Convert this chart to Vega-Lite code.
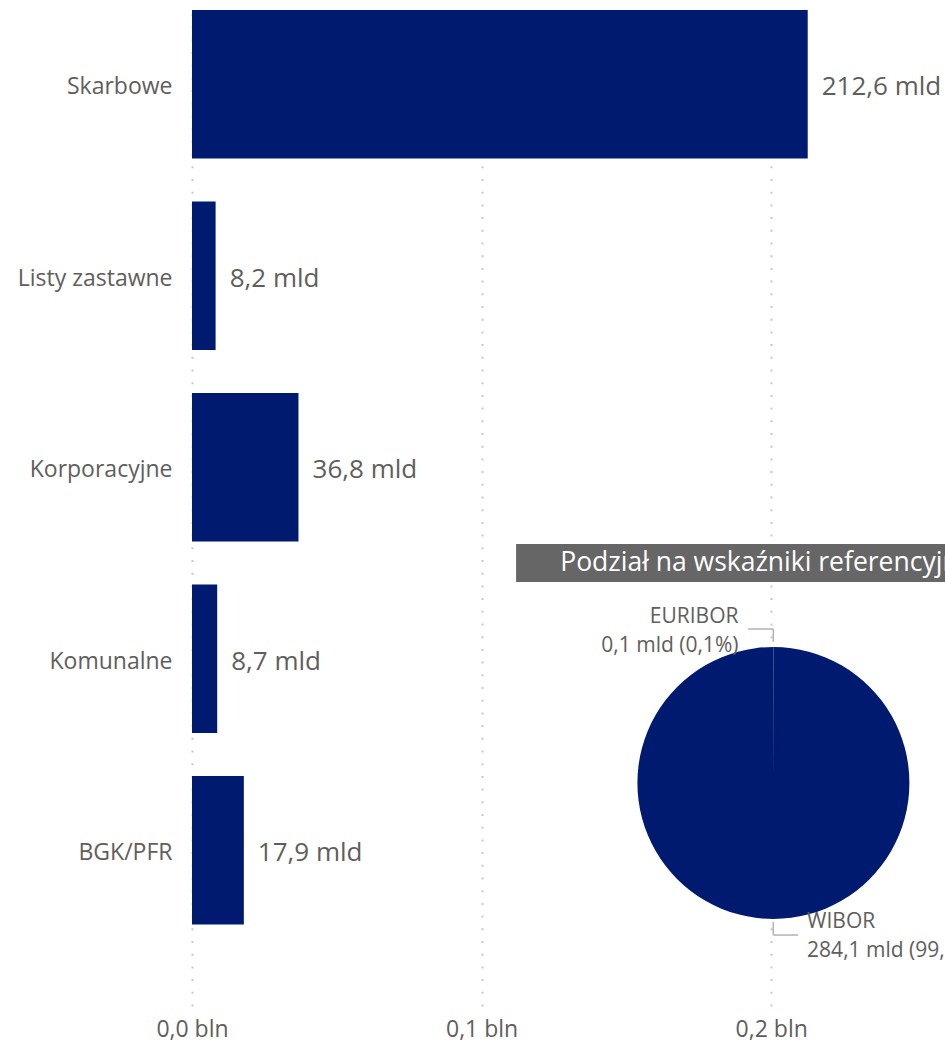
{
  "$schema": "https://vega.github.io/schema/vega-lite/v6.json",
  "autosize": {"type": "none"},
  "padding": {"left": 192, "top": 8, "right": 0, "bottom": 37},
  "width": 753,
  "height": 998,
  "background": "white",
  "config": {
    "view": {"stroke": null},
    "font": "Open Sans"
  },
  "layer": [
    {
      "data": {"values": [
        {"kategoria": "Skarbowe", "wskaznik": "WIBOR", "wartosc": 212.6, "etykieta": "212,6 mld"},
        {"kategoria": "Listy zastawne", "wskaznik": "WIBOR", "wartosc": 8.15, "etykieta": "8,2 mld"},
        {"kategoria": "Listy zastawne", "wskaznik": "EURIBOR", "wartosc": 0.05, "etykieta": "8,2 mld"},
        {"kategoria": "Korporacyjne", "wskaznik": "WIBOR", "wartosc": 36.75, "etykieta": "36,8 mld"},
        {"kategoria": "Korporacyjne", "wskaznik": "EURIBOR", "wartosc": 0.05, "etykieta": "36,8 mld"},
        {"kategoria": "Komunalne", "wskaznik": "WIBOR", "wartosc": 8.7, "etykieta": "8,7 mld"},
        {"kategoria": "BGK/PFR", "wskaznik": "WIBOR", "wartosc": 17.9, "etykieta": "17,9 mld"}
      ]},
      "layer": [
        {
          "mark": {"type": "bar"},
          "encoding": {
            "y": {
              "field": "kategoria", "type": "nominal", "sort": null, "title": null,
              "scale": {"domain": ["Skarbowe", "Listy zastawne", "Korporacyjne", "Komunalne", "BGK/PFR"], "paddingInner": 0.2245, "paddingOuter": 0.218, "align": 0.024},
              "axis": {
                "ticks": false, "domain": false, "labelPadding": 20, "labelFontSize": 23,
                "labelColor": "#605E5C", "labelFont": "Open Sans", "labelOffset": 3
              }
            },
            "x": {
              "field": "wartosc", "type": "quantitative", "stack": "zero", "title": null,
              "scale": {"domain": [0, 260], "nice": false},
              "axis": {
                "values": [0, 100, 200], "ticks": false, "domain": false, "labelFlush": false,
                "labelExpr": "replace(format(datum.value / 1000, '.1f'), '.', ',') + ' bln'",
                "labelFontSize": 23, "labelColor": "#605E5C", "labelFont": "Open Sans", "labelPadding": 12,
                "grid": true, "gridColor": "#C8C8C8", "gridWidth": 2, "gridDash": [2, 10.7]
              }
            },
            "color": {
              "field": "wskaznik", "type": "nominal", "legend": null,
              "scale": {"domain": ["WIBOR", "EURIBOR"], "range": ["#001A70", "#0E9BC4"]}
            },
            "order": {"field": "wskaznik", "sort": "descending"}
          }
        },
        {
          "mark": {"type": "text", "align": "left", "baseline": "middle", "dx": 14, "dy": 3, "fontSize": 26, "color": "#605E5C", "font": "Open Sans"},
          "encoding": {
            "y": {"field": "kategoria", "type": "nominal", "sort": null},
            "x": {"aggregate": "sum", "field": "wartosc", "type": "quantitative"},
            "text": {"field": "etykieta", "type": "nominal"}
          }
        }
      ]
    },
    {
      "data": {"values": [{"tytul": "Podział na wskaźniki referencyjne"}]},
      "encoding": {
        "y": {"datum": "Komunalne", "type": "nominal", "bandPosition": -0.145}
      },
      "layer": [
        {
          "mark": {"type": "rule", "color": "#666666", "strokeWidth": 38, "strokeCap": "butt"},
          "encoding": {
            "x": {"datum": 111.9, "type": "quantitative"},
            "x2": {"datum": 284.6}
          }
        },
        {
          "mark": {"type": "text", "color": "white", "fontSize": 26.5, "font": "Open Sans", "baseline": "middle", "align": "center"},
          "encoding": {
            "x": {"datum": 198.5, "type": "quantitative"},
            "text": {"field": "tytul", "type": "nominal"}
          }
        }
      ]
    },
    {
      "data": {"values": [
        {"wskaznik": "EURIBOR", "wartosc": 0.1, "etykieta": "EURIBOR\n0,1 mld (0,1%)"},
        {"wskaznik": "WIBOR", "wartosc": 284.1, "etykieta": "WIBOR\n284,1 mld (99,9%)"}
      ]},
      "encoding": {
        "theta": {"field": "wartosc", "type": "quantitative", "stack": true},
        "order": {"field": "wskaznik", "sort": "ascending"},
        "x": {"datum": 200.7, "type": "quantitative"},
        "y": {"datum": "BGK/PFR", "type": "nominal", "bandPosition": 0.047}
      },
      "layer": [
        {
          "mark": {"type": "arc", "outerRadius": 136},
          "encoding": {
            "color": {
              "field": "wskaznik", "type": "nominal", "legend": null,
              "scale": {"domain": ["WIBOR", "EURIBOR"], "range": ["#001A70", "#0E9BC4"]}
            }
          }
        },
        {
          "mark": {"type": "text", "radius": 166, "align": "right", "baseline": "middle", "dx": -35, "fontSize": 21, "lineHeight": 29, "lineBreak": "\n", "color": "#605E5C", "font": "Open Sans"},
          "encoding": {
            "text": {"condition": {"test": "datum.wskaznik == 'EURIBOR'", "field": "etykieta"}, "value": ""}
          }
        },
        {
          "mark": {"type": "text", "radius": 139.5, "align": "left", "baseline": "middle", "dx": 34, "fontSize": 21, "lineHeight": 29, "lineBreak": "\n", "color": "#605E5C", "font": "Open Sans"},
          "encoding": {
            "text": {"condition": {"test": "datum.wskaznik == 'WIBOR'", "field": "etykieta"}, "value": ""}
          }
        }
      ]
    },
    {
      "data": {"values": [{"wskaznik": "EURIBOR"}]},
      "layer": [
        {
          "mark": {"type": "rule", "color": "#B3B3B3", "strokeWidth": 1.5},
          "encoding": {
            "x": {"datum": 192.0, "type": "quantitative"},
            "x2": {"datum": 200.7},
            "y": {"datum": "BGK/PFR", "type": "nominal", "bandPosition": -0.99}
          }
        },
        {
          "mark": {"type": "rule", "color": "#B3B3B3", "strokeWidth": 1.5},
          "encoding": {
            "x": {"datum": 200.7, "type": "quantitative"},
            "y": {"datum": "BGK/PFR", "type": "nominal", "bandPosition": -0.99},
            "y2": {"datum": "BGK/PFR", "bandPosition": -0.902}
          }
        }
      ]
    },
    {
      "data": {"values": [{"wskaznik": "WIBOR"}]},
      "layer": [
        {
          "mark": {"type": "rule", "color": "#B3B3B3", "strokeWidth": 1.5},
          "encoding": {
            "x": {"datum": 200.7, "type": "quantitative"},
            "y": {"datum": "BGK/PFR", "type": "nominal", "bandPosition": 0.983},
            "y2": {"datum": "BGK/PFR", "bandPosition": 1.071}
          }
        },
        {
          "mark": {"type": "rule", "color": "#B3B3B3", "strokeWidth": 1.5},
          "encoding": {
            "x": {"datum": 200.7, "type": "quantitative"},
            "x2": {"datum": 209.3},
            "y": {"datum": "BGK/PFR", "type": "nominal", "bandPosition": 1.071}
          }
        }
      ]
    }
  ]
}
